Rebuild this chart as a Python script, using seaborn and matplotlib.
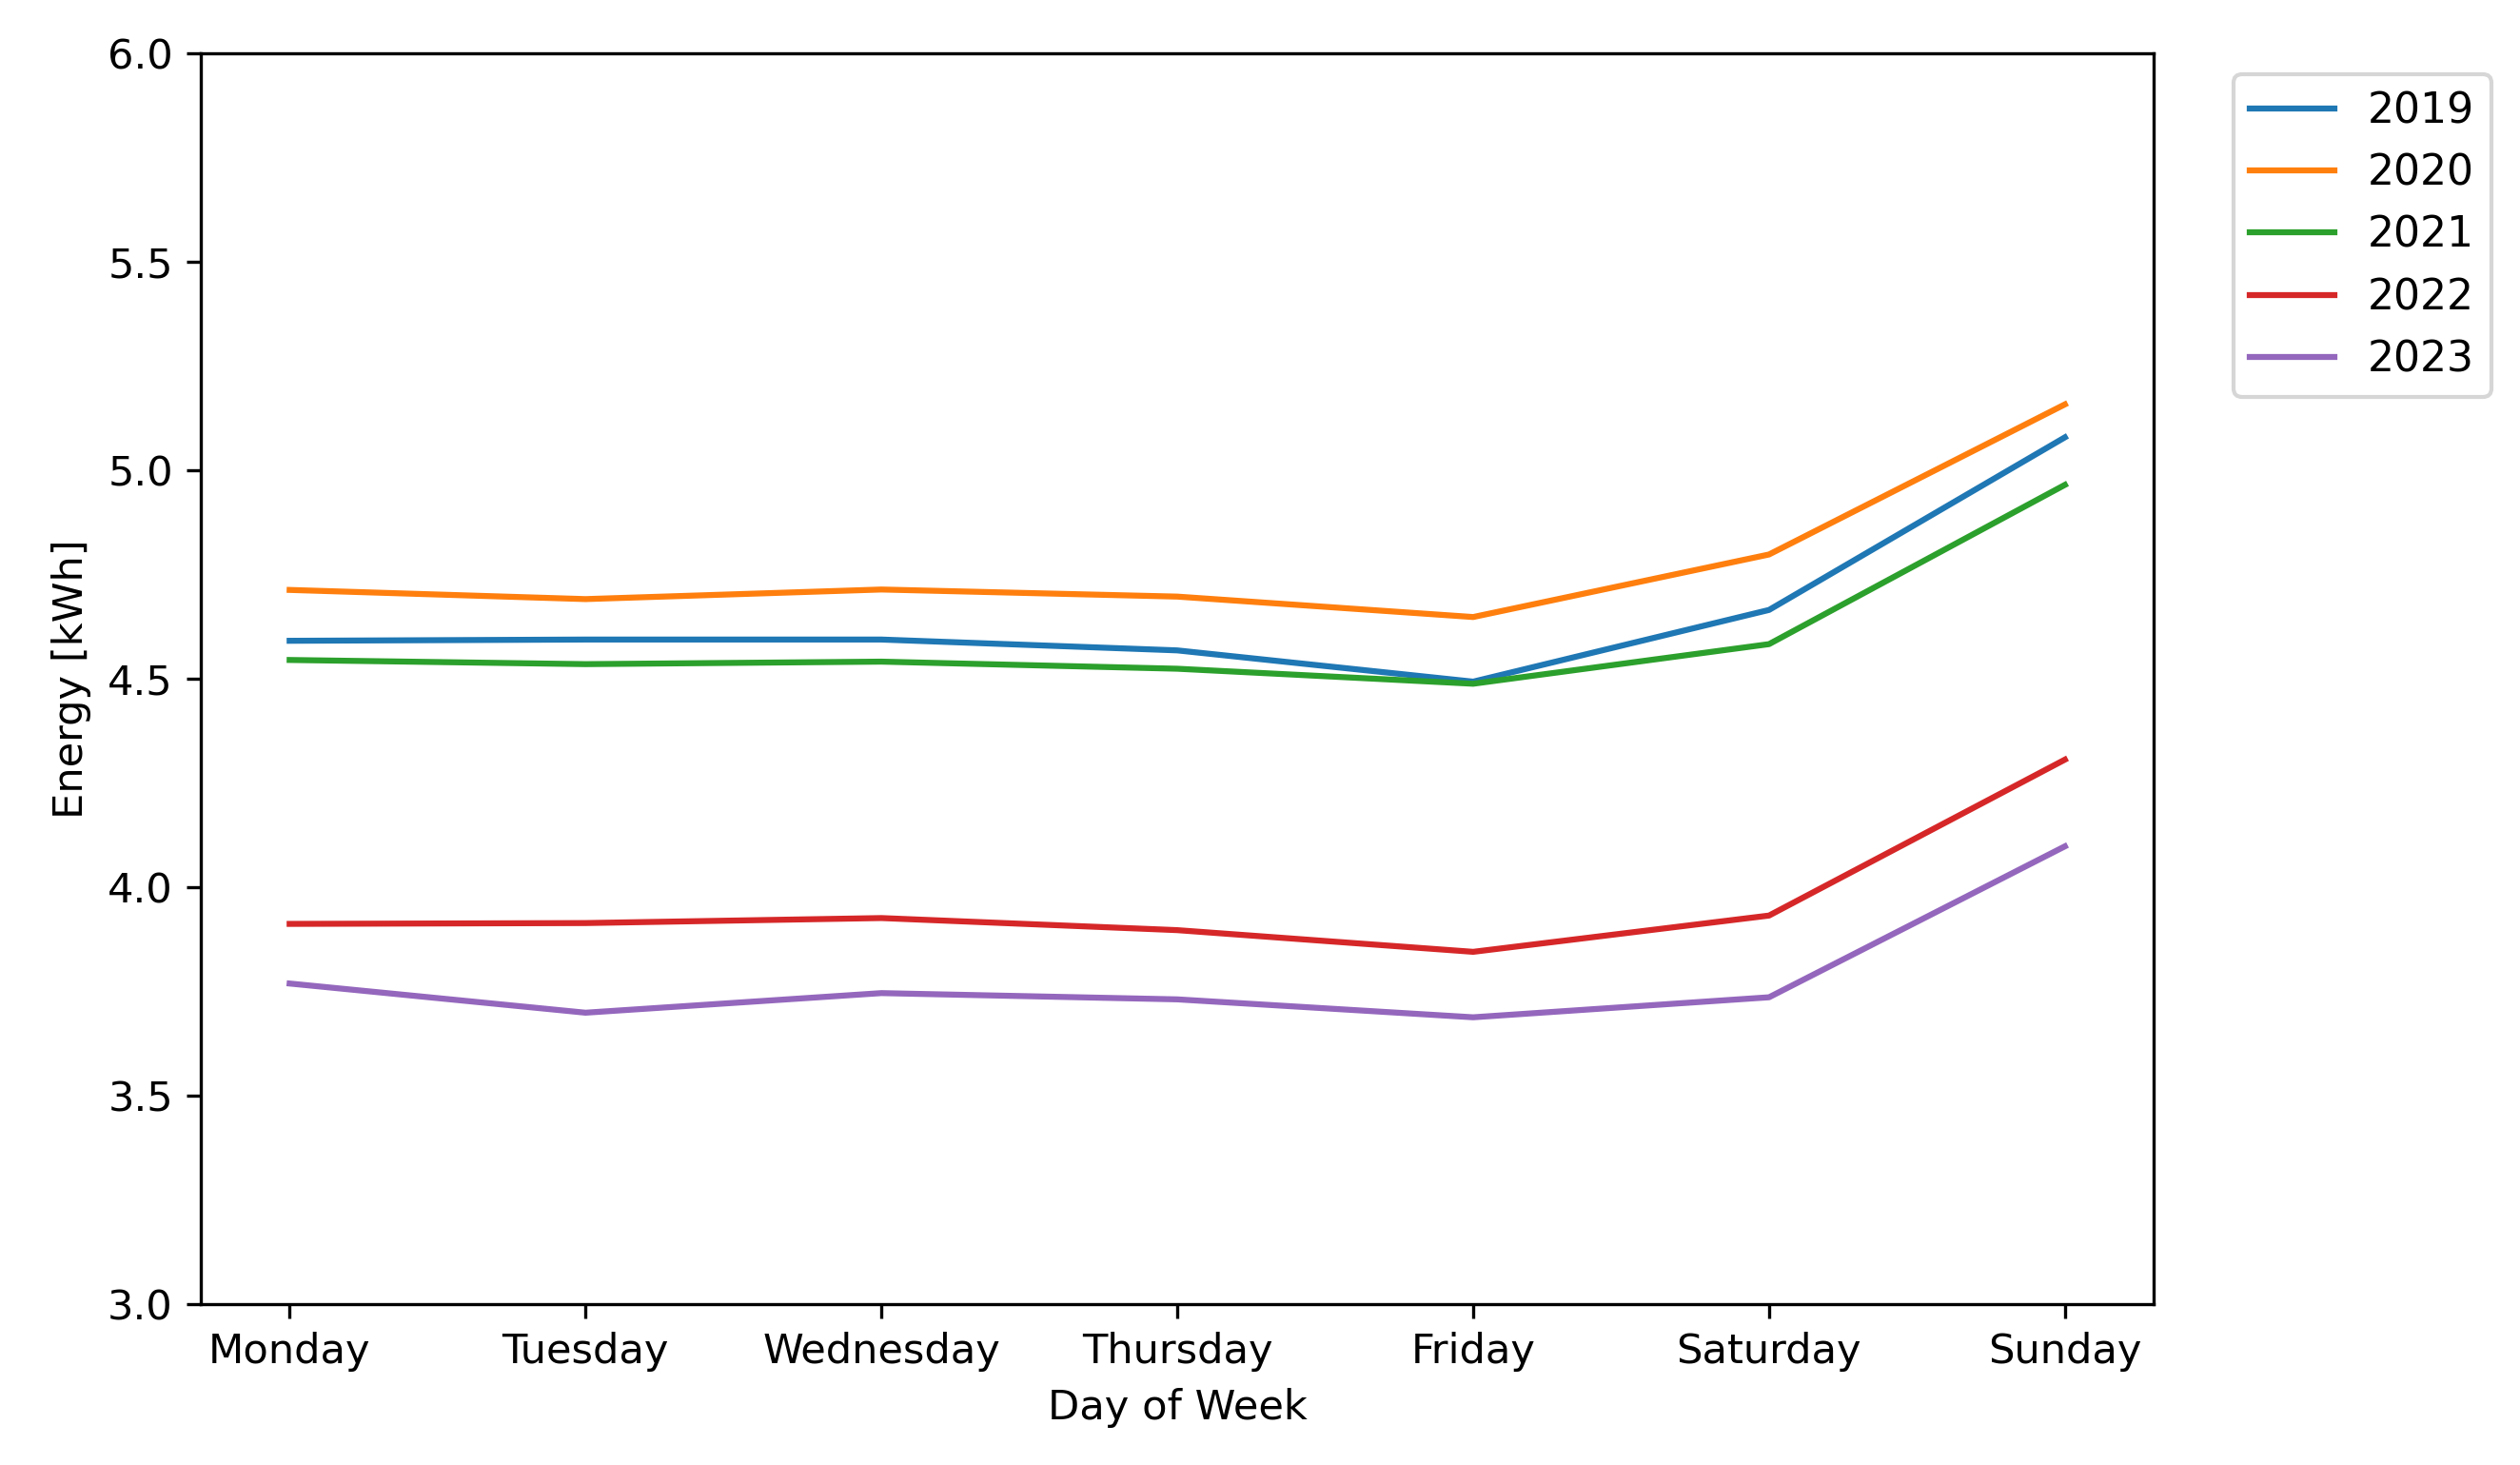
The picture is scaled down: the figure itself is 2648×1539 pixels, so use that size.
import pandas as pd
import seaborn as sns
import matplotlib
matplotlib.use("Agg")
import matplotlib.pyplot as plt

# days of the week and yearly average energy use per day
days = ["Monday", "Tuesday", "Wednesday", "Thursday", "Friday", "Saturday", "Sunday"]
years = ["2019", "2020", "2021", "2022", "2023"]
energy_2019 = [4.591, 4.594, 4.594, 4.568, 4.493, 4.665, 5.079]
energy_2020 = [4.713, 4.691, 4.714, 4.697, 4.648, 4.798, 5.158]
energy_2021 = [4.545, 4.535, 4.541, 4.524, 4.488, 4.583, 4.965]
energy_2022 = [3.912, 3.914, 3.926, 3.897, 3.845, 3.932, 4.306]
energy_2023 = [3.769, 3.699, 3.746, 3.731, 3.688, 3.736, 4.098]

series = [energy_2019, energy_2020, energy_2021, energy_2022, energy_2023]
rows = []
for year, values in zip(years, series):
    for day, v in zip(days, values):
        rows.append({"Day": day, "Energy": v, "Year": year})
df = pd.DataFrame(rows)

plt.rcParams["font.size"] = 10.4

fig, ax = plt.subplots(figsize=(8.827, 5.13), dpi=300)
fig.subplots_adjust(left=0.0797, right=0.8546, top=0.9636, bottom=0.1098)

sns.lineplot(data=df, x="Day", y="Energy", hue="Year", palette="tab10", ax=ax)

ax.set_ylim(3.0, 6.0)
ax.set_yticks([3.0, 3.5, 4.0, 4.5, 5.0, 5.5, 6.0])
ax.set_xlabel("Day of Week")
ax.set_ylabel("Energy [kWh]")

handles, labels = ax.get_legend_handles_labels()
ax.legend(handles, labels, bbox_to_anchor=(1.03, 1), loc="upper left", fontsize=10.6)

fig.savefig("out.png", dpi=300)
